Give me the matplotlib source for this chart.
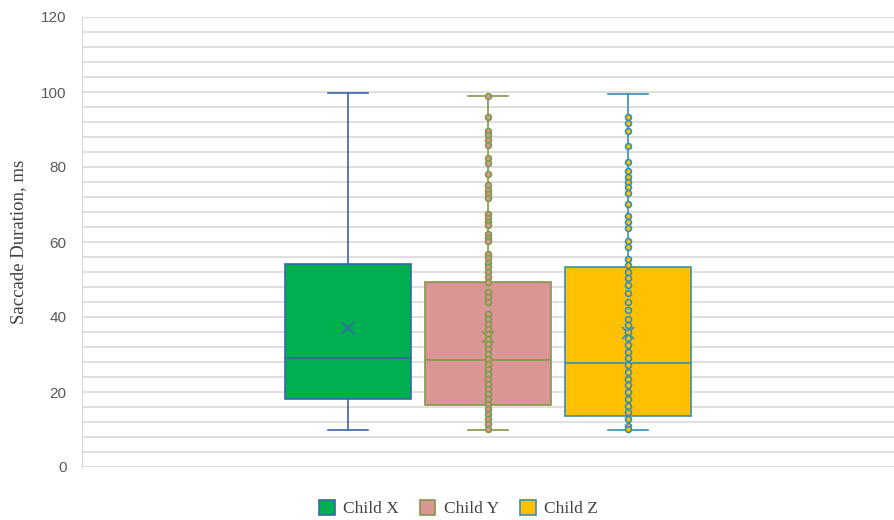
import numpy as np
import matplotlib
matplotlib.use("Agg")
import matplotlib.pyplot as plt
from matplotlib.patches import Patch

# series summary: lower whisker, Q1, median, Q3, upper whisker, mean
names = ["Child X", "Child Y", "Child Z"]
whislo = [10.0, 10.0, 10.0]
q1 = [18.1, 16.5, 13.6]
med = [29.1, 28.5, 27.7]
q3 = [54.1, 49.3, 53.3]
whishi = [99.7, 99.0, 99.5]
means = [37.1, 34.7, 35.7]

# inner points (Child X has none shown)
pts_y = [99, 93.3, 89.7, 88.6, 87.3, 86, 82.4, 81.1, 78.1, 75.1, 74, 72.8, 71.7,
         67.5, 66.4, 65.3, 64.4, 62.2, 61.1, 60.2, 56.9, 55.7, 54.4, 53.4, 52.1,
         50.7, 49.4, 46.7, 45.4, 44.1, 40.8, 39.5, 38.1, 36.8, 35.5, 34.1, 32.8,
         31.5, 30.1, 28.8, 27.5, 26.2, 24.8, 23.5, 22.2, 20.8, 19.5, 18.2, 16.9,
         15.5, 14.2, 12.9, 11.6, 10.2]
pts_z = [93.3, 91.7, 89.7, 85.5, 81.3, 78.9, 77.3, 75.9, 74.6, 73, 70.1, 66.9,
         65.3, 63.7, 60.2, 58.7, 55.5, 53.9, 52.1, 50.3, 48.5, 46.3, 44.1, 41.9,
         39.6, 37.9, 36.1, 34.3, 32.5, 30.7, 29, 27.2, 25.4, 23.6, 21.8, 20,
         18.2, 16.4, 14.6, 12.8, 11.0, 10.1]
points = [[], pts_y, pts_z]

fills = ["#00B050", "#D99694", "#FFC000"]
edges = ["#3C64A8", "#7F9A48", "#3A8FB0"]

fig = plt.figure(figsize=(8.94, 5.2), dpi=100)
ax = fig.add_axes([82 / 894, 1 - 467 / 520, 812 / 894, 450 / 520])

pos = np.arange(len(names)) + 1.9
stats = [dict(whislo=whislo[i], q1=q1[i], med=med[i], q3=q3[i],
              whishi=whishi[i], mean=means[i], fliers=[]) for i in range(len(names))]

for i in range(len(names)):
    ax.bxp([stats[i]], positions=[pos[i]], widths=0.907, capwidths=0.28,
           patch_artist=True, showmeans=True, showfliers=False,
           boxprops=dict(facecolor=fills[i], edgecolor=edges[i], linewidth=1.2),
           medianprops=dict(color=edges[i], linewidth=1.2),
           whiskerprops=dict(color=edges[i], linewidth=1.2),
           capprops=dict(color=edges[i], linewidth=1.2),
           meanprops=dict(marker="x", markeredgecolor=edges[i], markersize=9,
                          markeredgewidth=1.2),
           zorder=3)
    if points[i]:
        ax.scatter(np.full(len(points[i]), pos[i]), points[i], s=18,
                   facecolor=fills[i], edgecolor=edges[i], linewidth=1.2, zorder=4)

ax.set_xlim(0, 812 / 140)
ax.set_ylim(0, 120)
ax.set_yticks(np.arange(0, 121, 20))
ax.set_yticks(np.arange(0, 121, 4), minor=True)
ax.set_xticks([])
ax.grid(True, which="both", axis="y", color="#D6D6D6", linewidth=1.1, zorder=0)
ax.set_axisbelow(True)
for s in ["top", "right", "bottom"]:
    ax.spines[s].set_visible(False)
ax.spines["left"].set_color("#D6D6D6")
ax.tick_params(axis="y", which="both", length=0, colors="#595959", labelsize=11, pad=11)
for t in ax.get_yticklabels():
    t.set_fontfamily("Liberation Sans")

ax.set_ylabel("Saccade Duration, ms", family="Liberation Serif", fontsize=13.5,
              color="#404040")
ax.yaxis.set_label_coords(-0.068, 0.5)

handles = [Patch(facecolor=fills[i], edgecolor=edges[i], linewidth=1.2, label=names[i])
           for i in range(len(names))]
fig.legend(handles=handles, loc="lower center", bbox_to_anchor=(0.513, -0.025),
           ncol=3, frameon=False, prop=dict(family="Liberation Serif", size=12.5),
           labelcolor="#404040", handlelength=0.9, handleheight=0.9,
           handletextpad=0.5, columnspacing=1.2)

fig.savefig("out.png", dpi=100)
